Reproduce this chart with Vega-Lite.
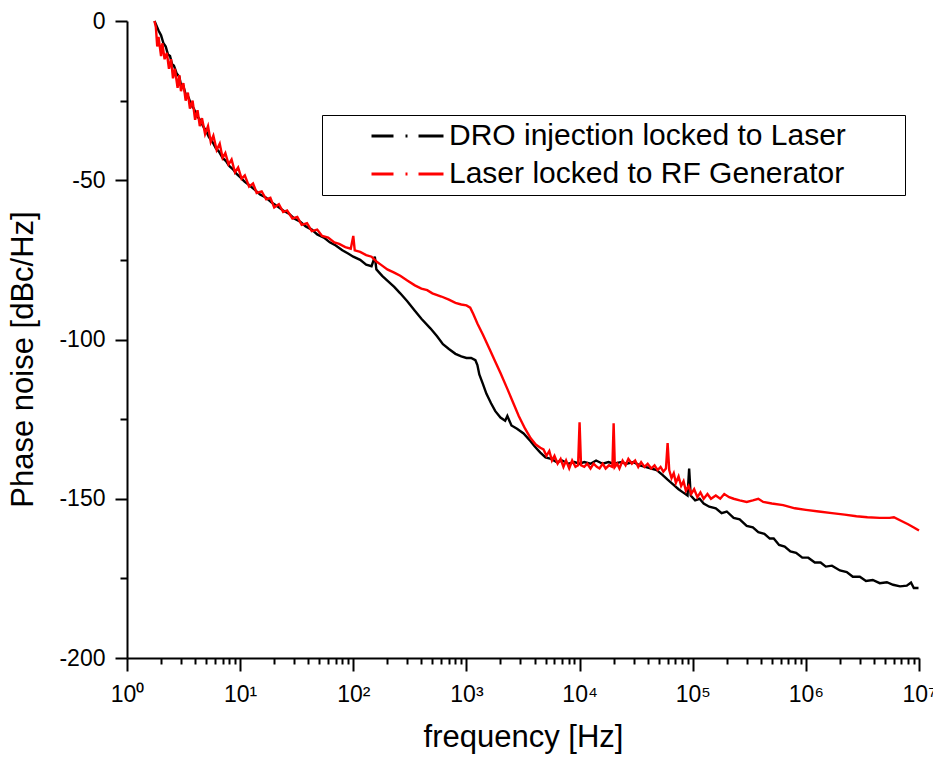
{
"$schema": "https://vega.github.io/schema/vega-lite/v6.json",
"autosize": "none",
"width": 792,
"height": 637,
"padding": {"left": 127, "top": 21, "right": 14, "bottom": 102},
"background": "white",
"config": {"view": {"stroke": null}, "font": "Liberation Sans",
  "axis": {"labelFont": "Liberation Sans", "titleFont": "Liberation Sans", "labelColor": "black", "titleColor": "black", "domainColor": "black", "tickColor": "black", "domainWidth": 2, "tickWidth": 2, "titleFontWeight": "normal", "grid": false}},
"datasets": {
"DRO": [
{"f":1.75,"db":0},{"f":1.8,"db":-1},{"f":1.9,"db":-3},{"f":2.0,"db":-4.5},{"f":2.1,"db":-7},{"f":2.2,"db":-8},{"f":2.3,"db":-10.5},{"f":2.4,"db":-11},{"f":2.5,"db":-13.5},{"f":2.6,"db":-14},{"f":2.75,"db":-16.5},{"f":2.9,"db":-17.5},{"f":3.0,"db":-20},{"f":3.15,"db":-20.5},{"f":3.3,"db":-23},{"f":3.5,"db":-24},{"f":3.7,"db":-26.5},{"f":3.9,"db":-27.5},{"f":4.1,"db":-29.5},{"f":4.4,"db":-31},{"f":4.7,"db":-33},{"f":5.0,"db":-34.5},{"f":5.3,"db":-36.5},{"f":5.7,"db":-38},{"f":6.1,"db":-40},{"f":6.5,"db":-41},{"f":7.0,"db":-43},{"f":7.5,"db":-44},{"f":8.0,"db":-45.5},{"f":8.6,"db":-46.5},{"f":9.3,"db":-48},{"f":10,"db":-49},
{"f":11,"db":-50.5},{"f":12,"db":-51.5},{"f":13.5,"db":-53},{"f":15,"db":-54.5},{"f":17,"db":-55.5},{"f":19,"db":-57},{"f":21,"db":-58},{"f":24,"db":-59.5},{"f":27,"db":-60.5},{"f":30,"db":-62},{"f":34,"db":-63},{"f":38,"db":-64.5},{"f":43,"db":-65.5},{"f":48,"db":-67},{"f":55,"db":-68},{"f":62,"db":-69.5},{"f":70,"db":-70.5},{"f":80,"db":-72},{"f":90,"db":-73},{"f":100,"db":-74},{"f":115,"db":-75},{"f":130,"db":-76.5},{"f":145,"db":-77},{"f":155,"db":-74},{"f":160,"db":-78},{"f":180,"db":-80},{"f":200,"db":-81.5},{"f":230,"db":-83.5},{"f":260,"db":-85.5},{"f":300,"db":-88},{"f":350,"db":-91},{"f":400,"db":-93.5},{"f":480,"db":-96.5},{"f":550,"db":-99},{"f":620,"db":-101.5},{"f":700,"db":-103},{"f":800,"db":-104.5},{"f":900,"db":-105.3},{"f":1000,"db":-105.8},{"f":1100,"db":-105.8},{"f":1200,"db":-106.5},{"f":1250,"db":-108},{"f":1300,"db":-111},{"f":1400,"db":-114},{"f":1500,"db":-117},{"f":1650,"db":-120},{"f":1800,"db":-122.5},{"f":2000,"db":-124.5},{"f":2200,"db":-125.5},{"f":2300,"db":-124},{"f":2500,"db":-127},{"f":2800,"db":-128},{"f":3200,"db":-129.5},{"f":3600,"db":-131.5},{"f":4000,"db":-133.5},{"f":4500,"db":-135.5},{"f":5000,"db":-137},{"f":5600,"db":-137.5},{"f":6300,"db":-138.5},{"f":7000,"db":-138},{"f":8000,"db":-139},{"f":9000,"db":-138.5},{"f":10000,"db":-139},{"f":11000,"db":-138.5},{"f":12500,"db":-139},{"f":14000,"db":-138},{"f":16000,"db":-139},{"f":18000,"db":-138.5},{"f":20000,"db":-139},{"f":23000,"db":-138.5},{"f":26000,"db":-139},{"f":30000,"db":-138.5},{"f":34000,"db":-139.5},{"f":38000,"db":-140},{"f":43000,"db":-140.5},{"f":48000,"db":-141},{"f":54000,"db":-142.5},{"f":60000,"db":-144},{"f":67000,"db":-145.5},{"f":75000,"db":-147},{"f":82000,"db":-148},{"f":90000,"db":-149},{"f":93000,"db":-140.5},{"f":96000,"db":-149},{"f":105000,"db":-150.5},{"f":115000,"db":-150},{"f":125000,"db":-151.5},{"f":140000,"db":-152.5},{"f":160000,"db":-153},{"f":180000,"db":-154.5},{"f":200000,"db":-154},{"f":230000,"db":-156},{"f":260000,"db":-156.5},{"f":300000,"db":-158.5},{"f":340000,"db":-159},{"f":380000,"db":-160.5},{"f":430000,"db":-161},{"f":480000,"db":-162.5},{"f":520000,"db":-162.5},{"f":580000,"db":-164.5},{"f":650000,"db":-165},{"f":730000,"db":-166.5},{"f":820000,"db":-167},{"f":930000,"db":-168.5},{"f":1050000,"db":-168.5},{"f":1200000,"db":-170},{"f":1350000,"db":-170},{"f":1500000,"db":-171.3},{"f":1700000,"db":-171},{"f":2000000,"db":-172.5},{"f":2300000,"db":-173},{"f":2600000,"db":-174.5},{"f":3000000,"db":-174.5},{"f":3400000,"db":-175.8},{"f":3900000,"db":-175.5},{"f":4500000,"db":-176.5},{"f":5200000,"db":-176.2},{"f":5900000,"db":-177},{"f":6800000,"db":-177.5},{"f":7800000,"db":-177.3},{"f":8500000,"db":-176.3},{"f":9000000,"db":-178},{"f":9900000,"db":-178}
],
"RF": [
{"f":1.75,"db":0},{"f":1.8,"db":-2},{"f":1.85,"db":-8},{"f":1.9,"db":-5},{"f":2.0,"db":-11},{"f":2.05,"db":-7},{"f":2.15,"db":-12},{"f":2.25,"db":-10},{"f":2.35,"db":-15},{"f":2.45,"db":-12},{"f":2.55,"db":-18},{"f":2.65,"db":-15},{"f":2.8,"db":-21},{"f":2.9,"db":-17},{"f":3.0,"db":-22},{"f":3.15,"db":-19.5},{"f":3.3,"db":-25},{"f":3.45,"db":-22.5},{"f":3.6,"db":-27.5},{"f":3.8,"db":-25},{"f":4.0,"db":-31},{"f":4.2,"db":-28},{"f":4.4,"db":-33},{"f":4.6,"db":-30.5},{"f":4.9,"db":-35.5},{"f":5.2,"db":-33},{"f":5.5,"db":-38},{"f":5.8,"db":-36},{"f":6.2,"db":-40.5},{"f":6.6,"db":-38.5},{"f":7.0,"db":-43},{"f":7.4,"db":-41.5},{"f":7.9,"db":-45},{"f":8.4,"db":-43.5},{"f":9.0,"db":-47.5},{"f":9.6,"db":-46},{"f":10.3,"db":-49.5},{"f":11,"db":-48.5},{"f":12,"db":-52},{"f":13,"db":-51},{"f":14,"db":-54},{"f":15.5,"db":-53.5},{"f":17,"db":-56},{"f":18.5,"db":-55.5},{"f":20,"db":-58.5},{"f":22,"db":-57.5},{"f":24,"db":-60},{"f":26,"db":-59.5},{"f":29,"db":-62},{"f":32,"db":-61.5},{"f":35,"db":-64},{"f":39,"db":-63.5},{"f":43,"db":-66},{"f":48,"db":-65.5},{"f":53,"db":-67.5},{"f":60,"db":-68},{"f":68,"db":-69.5},{"f":75,"db":-70},{"f":85,"db":-71},{"f":95,"db":-71.5},{"f":100,"db":-67.5},{"f":103,"db":-72},{"f":115,"db":-72.5},{"f":130,"db":-73.5},{"f":145,"db":-74},{"f":160,"db":-75.5},{"f":175,"db":-76.5},{"f":200,"db":-78},{"f":230,"db":-79},{"f":260,"db":-80},{"f":300,"db":-81.5},{"f":350,"db":-83},{"f":400,"db":-84},{"f":450,"db":-84.5},{"f":500,"db":-85.5},{"f":600,"db":-86.5},{"f":700,"db":-87.5},{"f":800,"db":-88.5},{"f":900,"db":-89},{"f":1000,"db":-89.3},{"f":1080,"db":-90},{"f":1150,"db":-92},{"f":1250,"db":-95},{"f":1400,"db":-98.5},{"f":1600,"db":-103},{"f":1800,"db":-107},{"f":2000,"db":-110.5},{"f":2300,"db":-115.5},{"f":2600,"db":-120},{"f":2900,"db":-124},{"f":3300,"db":-128},{"f":3700,"db":-131},{"f":4100,"db":-133},{"f":4500,"db":-134},{"f":4800,"db":-134.5},{"f":5100,"db":-136.5},{"f":5400,"db":-135},{"f":5700,"db":-138},{"f":6000,"db":-136.5},{"f":6400,"db":-139},{"f":6800,"db":-137.5},{"f":7200,"db":-140},{"f":7600,"db":-138},{"f":8100,"db":-140.5},{"f":8600,"db":-138},{"f":9200,"db":-140},{"f":9700,"db":-139.5},{"f":10000,"db":-126},{"f":10300,"db":-139.5},{"f":11000,"db":-140},{"f":11700,"db":-139},{"f":12500,"db":-140.5},{"f":13300,"db":-139},{"f":14200,"db":-140},{"f":15000,"db":-140.5},{"f":16000,"db":-139},{"f":17000,"db":-140.5},{"f":18200,"db":-139.5},{"f":19500,"db":-140},{"f":20000,"db":-126.3},{"f":20500,"db":-140},{"f":21500,"db":-139},{"f":22500,"db":-140.5},{"f":24000,"db":-138},{"f":25500,"db":-139.5},{"f":27000,"db":-137.5},{"f":29000,"db":-139},{"f":31000,"db":-138},{"f":33000,"db":-140},{"f":35000,"db":-138.5},{"f":37500,"db":-140},{"f":40000,"db":-139},{"f":43000,"db":-140.5},{"f":46000,"db":-139.5},{"f":49000,"db":-141},{"f":52000,"db":-140},{"f":55000,"db":-141.5},{"f":58000,"db":-140.5},{"f":60000,"db":-132.5},{"f":62000,"db":-141},{"f":65000,"db":-143.5},{"f":68000,"db":-142},{"f":71000,"db":-145},{"f":75000,"db":-143},{"f":79000,"db":-146},{"f":83000,"db":-144.5},{"f":87000,"db":-147.5},{"f":92000,"db":-146},{"f":97000,"db":-148.5},{"f":103000,"db":-147},{"f":110000,"db":-149.5},{"f":117000,"db":-148},{"f":125000,"db":-150},{"f":135000,"db":-148.5},{"f":145000,"db":-150},{"f":160000,"db":-149},{"f":175000,"db":-150},{"f":190000,"db":-148.5},{"f":210000,"db":-149.5},{"f":230000,"db":-150},{"f":260000,"db":-150.5},{"f":300000,"db":-151},{"f":340000,"db":-150.5},{"f":380000,"db":-150},{"f":420000,"db":-151},{"f":500000,"db":-151.5},{"f":630000,"db":-152},{"f":800000,"db":-153},{"f":1000000,"db":-153.5},{"f":1300000,"db":-154},{"f":1700000,"db":-154.5},{"f":2200000,"db":-155},{"f":2800000,"db":-155.5},{"f":3500000,"db":-155.8},{"f":4500000,"db":-156},{"f":5500000,"db":-156},{"f":6000000,"db":-155.8},{"f":7000000,"db":-157},{"f":8000000,"db":-158},{"f":9000000,"db":-159},{"f":10000000,"db":-160}
]
},
"layer": [
{
 "data": {"name": "DRO"},
 "transform": [{"calculate": "'DRO injection locked to Laser'", "as": "series"}],
 "mark": {"type": "line", "strokeWidth": 2.4},
 "encoding": {
  "x": {"field": "f", "type": "quantitative", "scale": {"type": "log", "domain": [1, 10000000], "nice": false},
   "axis": {"title": "frequency [Hz]", "titleFontSize": 31, "titlePadding": 16, "labelFontSize": 23, "labelPadding": 12, "labelFlush": false, "labelOverlap": false, "labelBound": false,
    "values": [1,2,3,4,5,6,7,8,9,10,20,30,40,50,60,70,80,90,100,200,300,400,500,600,700,800,900,1000,2000,3000,4000,5000,6000,7000,8000,9000,10000,20000,30000,40000,50000,60000,70000,80000,90000,100000,200000,300000,400000,500000,600000,700000,800000,900000,1000000,2000000,3000000,4000000,5000000,6000000,7000000,8000000,9000000,10000000],
    "labelExpr": "abs(log(datum.value)/LN10 - round(log(datum.value)/LN10)) < 0.001 ? '10' + ['⁰','¹','²','³','⁴','⁵','⁶','⁷'][round(log(datum.value)/LN10)] : ''",
    "tickSize": {"condition": {"test": "abs(log(datum.value)/LN10 - round(log(datum.value)/LN10)) < 0.001", "value": 13}, "value": 6}}},
  "y": {"field": "db", "type": "quantitative", "scale": {"domain": [-200, 0], "nice": false},
   "axis": {"title": "Phase noise [dBc/Hz]", "titleFontSize": 31, "titlePadding": 19, "titleY": 338, "labelFontSize": 23, "labelPadding": 10,
    "values": [-200,-175,-150,-125,-100,-75,-50,-25,0],
    "labelExpr": "datum.value % 50 == 0 ? '' + datum.value : ''",
    "tickSize": {"condition": {"test": "datum.value % 50 == 0", "value": 12}, "value": 7}}},
  "color": {"field": "series", "type": "nominal",
   "scale": {"domain": ["DRO injection locked to Laser", "Laser locked to RF Generator"], "range": ["#000000", "#ff0000"]},
   "legend": {"orient": "none", "legendX": 195, "legendY": 94, "title": null, "symbolType": "stroke", "symbolSize": 5184, "symbolStrokeWidth": 3, "symbolDash": [22, 12, 2, 11, 25, 0], "symbolOffset": 42, "clipHeight": 30, "labelFontSize": 30, "labelFont": "Liberation Sans", "labelColor": "black", "labelOffset": 4, "labelLimit": 800, "padding": 6, "rowPadding": 8, "strokeColor": "black", "fillColor": "white", "labelExpr": "datum.label + '\u00a0\u2800\u2800'"}}
 }
},
{
 "data": {"name": "RF"},
 "transform": [{"calculate": "'Laser locked to RF Generator'", "as": "series"}],
 "mark": {"type": "line", "strokeWidth": 2.4},
 "encoding": {
  "x": {"field": "f", "type": "quantitative"},
  "y": {"field": "db", "type": "quantitative"},
  "color": {"field": "series", "type": "nominal"}
 }
}
]
}
